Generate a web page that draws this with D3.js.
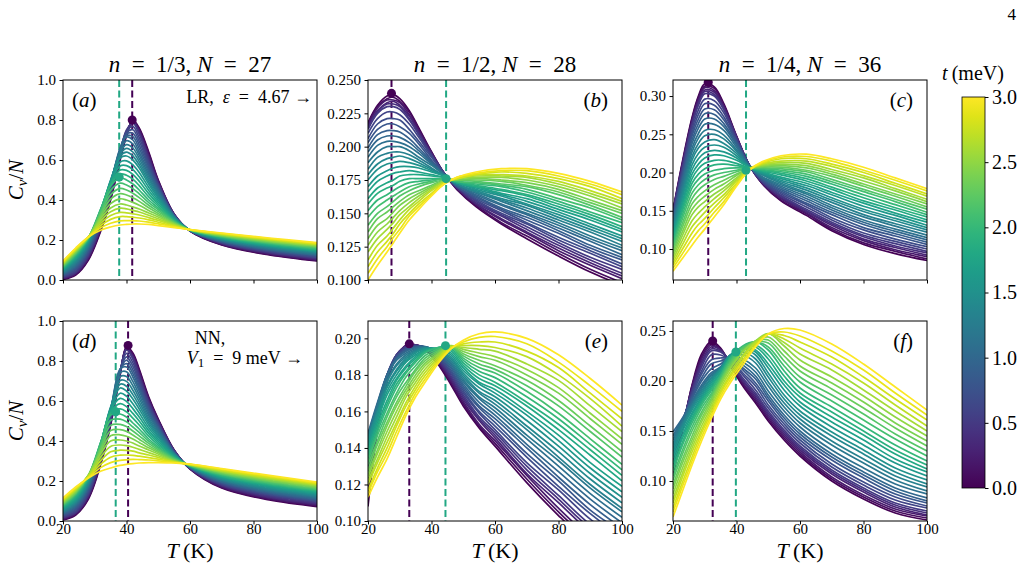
<!DOCTYPE html>
<html><head><meta charset="utf-8">
<script src="https://cdn.jsdelivr.net/npm/d3@7"></script>
<style>
body{margin:0;background:#fff;}
svg{display:block;}
</style>
</head><body>
<svg id="c" width="1028" height="578"></svg>
<script>
// ---------- data ----------
const tValues = [0,0.1,0.2,0.3,0.4,0.5,0.6,0.7,0.8,0.9,1,1.1,1.2,1.3,1.4,1.5,1.6,1.7,1.8,1.9,2,2.1,2.2,2.3,2.4,2.5,2.6,2.7,2.8,2.9,3];
const xTicks = [20,40,60,80,100];
const cbTicks = [0,0.5,1,1.5,2,2.5,3];

// panel (a): rows = temperatures, columns = t values
const tempA = [20,24,28,32,35,38,40,42,44,47,50,55,60,70,85,100];
const cvA = [
[.003,.005,.008,.010,.013,.015,.018,.021,.024,.027,.030,.033,.037,.040,.044,.047,.050,.053,.057,.060,.063,.066,.069,.073,.076,.079,.082,.085,.089,.092,.095],
[.025,.028,.031,.034,.037,.040,.046,.052,.058,.064,.070,.076,.082,.088,.094,.100,.105,.110,.115,.120,.125,.129,.133,.137,.141,.145,.148,.151,.154,.157,.160],
[.100,.105,.110,.115,.120,.125,.132,.139,.146,.153,.160,.166,.172,.178,.184,.190,.194,.198,.202,.206,.210,.211,.212,.213,.214,.215,.215,.215,.215,.215,.215],
[.250,.256,.262,.268,.274,.280,.288,.296,.304,.312,.320,.326,.332,.338,.344,.350,.352,.354,.356,.358,.360,.350,.340,.330,.320,.310,.298,.286,.274,.262,.250],
[.400,.408,.416,.424,.432,.440,.448,.456,.464,.472,.480,.484,.488,.492,.496,.500,.494,.488,.482,.476,.470,.448,.426,.404,.382,.360,.341,.322,.303,.284,.265],
[.600,.608,.616,.624,.632,.640,.644,.648,.652,.656,.660,.650,.640,.630,.620,.610,.590,.570,.550,.530,.510,.484,.458,.432,.406,.380,.359,.338,.317,.296,.275],
[.720,.726,.732,.738,.744,.750,.743,.736,.729,.722,.715,.696,.677,.658,.639,.620,.596,.572,.548,.524,.500,.475,.450,.425,.400,.375,.356,.336,.317,.297,.278],
[.800,.797,.794,.791,.788,.785,.768,.751,.734,.717,.700,.680,.660,.640,.620,.600,.576,.552,.528,.504,.480,.457,.434,.411,.388,.365,.348,.331,.314,.297,.280],
[.760,.754,.748,.742,.736,.730,.712,.694,.676,.658,.640,.624,.608,.592,.576,.560,.538,.516,.494,.472,.450,.431,.412,.393,.374,.355,.340,.325,.310,.295,.280],
[.640,.632,.624,.616,.608,.600,.588,.576,.564,.552,.540,.528,.516,.504,.492,.480,.464,.448,.432,.416,.400,.387,.374,.361,.348,.335,.324,.312,.301,.289,.278],
[.500,.496,.492,.488,.484,.480,.474,.468,.462,.456,.450,.442,.434,.426,.418,.410,.400,.390,.380,.370,.360,.351,.342,.333,.324,.315,.306,.298,.289,.281,.272],
[.330,.329,.328,.327,.326,.325,.324,.323,.322,.321,.320,.318,.316,.314,.312,.310,.307,.304,.301,.298,.295,.292,.289,.286,.283,.280,.276,.273,.269,.266,.262],
[.245,.245,.246,.246,.247,.247,.247,.247,.248,.248,.248,.248,.248,.249,.249,.249,.249,.249,.250,.250,.250,.250,.250,.251,.251,.251,.251,.251,.252,.252,.252],
[.175,.177,.179,.181,.183,.185,.187,.189,.191,.193,.195,.197,.199,.201,.203,.205,.207,.209,.211,.213,.215,.217,.219,.221,.223,.225,.227,.229,.231,.233,.235],
[.125,.128,.131,.134,.136,.139,.142,.145,.148,.151,.153,.156,.159,.162,.165,.168,.170,.173,.176,.179,.182,.185,.187,.190,.193,.196,.199,.202,.204,.207,.210],
[.095,.098,.101,.104,.107,.110,.113,.116,.120,.123,.126,.129,.132,.135,.138,.141,.144,.147,.150,.153,.156,.159,.163,.166,.169,.172,.175,.178,.181,.184,.187]
];

// panel (b)
const tempB = [20,23,26,28,30,33,36,40,44,48,54,62,70,80,90,100];
const cvB = [
[.218,.217,.216,.215,.214,.213,.210,.206,.203,.199,.196,.192,.188,.183,.179,.175,.170,.166,.161,.157,.152,.147,.141,.136,.131,.126,.121,.115,.110,.105,.100],
[.231,.230,.229,.227,.226,.225,.221,.217,.213,.209,.205,.201,.196,.192,.187,.183,.178,.174,.169,.165,.160,.155,.150,.146,.141,.136,.131,.126,.121,.116,.111],
[.238,.236,.235,.233,.232,.230,.226,.221,.217,.212,.208,.204,.200,.195,.191,.187,.182,.178,.173,.169,.164,.160,.155,.151,.146,.142,.138,.133,.129,.125,.121],
[.239,.237,.235,.234,.232,.230,.226,.221,.217,.212,.208,.204,.200,.196,.192,.188,.184,.180,.175,.171,.167,.163,.159,.155,.151,.147,.143,.139,.135,.132,.128],
[.236,.234,.233,.231,.230,.228,.224,.220,.215,.211,.207,.203,.200,.196,.193,.189,.185,.181,.178,.174,.170,.166,.163,.159,.156,.152,.149,.145,.142,.138,.135],
[.227,.226,.224,.223,.221,.220,.217,.213,.210,.206,.203,.200,.197,.194,.191,.188,.185,.182,.179,.176,.173,.170,.167,.164,.161,.158,.155,.153,.150,.148,.145],
[.214,.213,.212,.211,.210,.209,.207,.204,.202,.199,.197,.195,.192,.190,.188,.186,.184,.181,.179,.176,.174,.172,.170,.167,.165,.163,.161,.159,.157,.155,.153],
[.196,.196,.195,.195,.194,.194,.193,.192,.190,.189,.188,.187,.186,.184,.183,.182,.181,.179,.178,.176,.175,.174,.173,.171,.170,.169,.168,.167,.165,.164,.163],
[.180,.180,.180,.180,.180,.180,.180,.180,.179,.179,.179,.179,.179,.178,.178,.178,.178,.177,.177,.176,.176,.176,.175,.175,.174,.174,.174,.173,.173,.172,.172],
[.168,.168,.169,.169,.169,.170,.170,.170,.170,.171,.171,.171,.172,.172,.172,.173,.173,.173,.173,.174,.174,.174,.175,.175,.175,.176,.176,.176,.176,.177,.177],
[.155,.156,.157,.157,.158,.159,.160,.161,.162,.163,.164,.165,.166,.166,.167,.168,.169,.170,.170,.171,.172,.173,.174,.175,.176,.177,.178,.179,.179,.180,.181],
[.142,.143,.145,.146,.148,.149,.150,.152,.153,.154,.156,.157,.159,.160,.161,.163,.164,.165,.167,.168,.170,.171,.172,.174,.175,.177,.178,.179,.181,.182,.1835],
[.131,.133,.135,.136,.138,.140,.142,.143,.145,.147,.149,.150,.152,.154,.156,.157,.159,.161,.163,.164,.166,.168,.170,.171,.173,.175,.177,.178,.180,.182,.1835],
[.118,.120,.122,.124,.126,.128,.130,.132,.135,.137,.139,.141,.143,.145,.147,.149,.151,.153,.155,.157,.159,.161,.164,.166,.168,.170,.172,.174,.176,.178,.180],
[.106,.108,.111,.113,.115,.117,.120,.122,.124,.126,.129,.131,.133,.136,.138,.140,.142,.145,.147,.149,.151,.154,.156,.158,.160,.163,.165,.167,.170,.172,.174],
[.096,.098,.101,.103,.105,.108,.110,.112,.115,.117,.119,.122,.124,.126,.129,.131,.133,.136,.138,.140,.143,.145,.147,.150,.152,.154,.157,.159,.161,.164,.166]
];

// panel (c)
const tempC = [20,23,26,28,30,33,36,40,44,48,54,62,70,80,90,100];
const cvC = [
[.150,.150,.149,.149,.148,.148,.146,.144,.142,.140,.138,.135,.132,.130,.127,.124,.121,.118,.114,.111,.108,.104,.101,.097,.094,.090,.086,.082,.079,.075,.071],
[.215,.213,.212,.210,.209,.207,.204,.200,.197,.193,.190,.186,.181,.177,.172,.168,.163,.159,.154,.150,.145,.140,.134,.129,.123,.118,.112,.106,.100,.094,.088],
[.272,.270,.268,.266,.264,.262,.257,.252,.248,.243,.238,.232,.227,.221,.216,.210,.204,.198,.192,.186,.180,.173,.166,.159,.152,.145,.137,.129,.121,.113,.105],
[.300,.298,.295,.293,.290,.288,.282,.276,.270,.264,.258,.251,.245,.238,.232,.225,.218,.211,.205,.198,.191,.184,.177,.169,.162,.155,.147,.139,.132,.124,.116],
[.316,.313,.311,.308,.306,.303,.296,.290,.283,.277,.270,.263,.255,.248,.240,.233,.226,.219,.212,.205,.198,.191,.184,.176,.169,.162,.155,.148,.140,.133,.126],
[.312,.310,.307,.305,.302,.300,.294,.288,.282,.276,.270,.263,.256,.250,.243,.236,.229,.223,.216,.210,.203,.197,.191,.184,.178,.172,.166,.160,.154,.148,.142],
[.290,.288,.287,.285,.284,.282,.278,.273,.269,.264,.260,.255,.249,.244,.238,.233,.227,.222,.216,.211,.205,.200,.195,.190,.185,.180,.176,.171,.167,.162,.158],
[.248,.247,.247,.246,.246,.245,.243,.241,.240,.238,.236,.233,.230,.228,.225,.222,.219,.216,.212,.209,.206,.203,.201,.198,.196,.193,.191,.189,.186,.184,.182],
[.210,.210,.210,.210,.210,.210,.210,.210,.209,.209,.209,.209,.208,.208,.207,.207,.207,.207,.206,.206,.206,.206,.206,.205,.205,.205,.205,.204,.204,.203,.203],
[.186,.186,.187,.187,.188,.188,.189,.190,.191,.192,.193,.194,.195,.197,.198,.199,.200,.201,.202,.203,.204,.205,.206,.207,.208,.209,.210,.211,.212,.213,.214],
[.163,.164,.166,.167,.169,.170,.172,.174,.176,.178,.180,.182,.184,.186,.188,.190,.192,.194,.197,.199,.201,.203,.205,.207,.209,.211,.213,.215,.218,.220,.222],
[.144,.146,.147,.149,.150,.152,.155,.158,.160,.163,.166,.169,.172,.174,.177,.180,.183,.186,.189,.192,.195,.198,.201,.203,.206,.209,.212,.215,.218,.221,.224],
[.124,.126,.128,.131,.133,.135,.138,.141,.145,.148,.151,.154,.157,.161,.164,.167,.171,.174,.178,.181,.185,.188,.191,.195,.198,.201,.204,.208,.211,.215,.218],
[.106,.108,.111,.113,.116,.118,.121,.125,.128,.132,.135,.138,.142,.145,.149,.152,.156,.160,.163,.167,.171,.175,.178,.182,.185,.189,.193,.196,.200,.203,.207],
[.094,.097,.099,.102,.104,.107,.110,.113,.117,.120,.123,.126,.130,.133,.137,.140,.144,.147,.151,.154,.158,.162,.165,.169,.172,.176,.179,.183,.186,.190,.193],
[.085,.087,.090,.092,.095,.097,.100,.103,.106,.109,.112,.115,.118,.122,.125,.128,.131,.135,.138,.142,.145,.148,.152,.155,.159,.162,.165,.169,.172,.176,.179]
];

// panel (d)
const tempD = [20,24,28,32,35,38,40,42,44,47,50,55,60,70,85,100];
const cvD = [
[.005,.008,.011,.014,.017,.020,.024,.027,.031,.034,.038,.042,.045,.049,.053,.057,.061,.065,.068,.072,.076,.080,.084,.087,.091,.095,.099,.103,.107,.111,.115],
[.030,.033,.036,.039,.042,.045,.051,.057,.063,.069,.075,.080,.085,.090,.095,.100,.106,.112,.118,.124,.130,.134,.138,.142,.146,.150,.154,.158,.162,.166,.170],
[.110,.115,.120,.125,.130,.135,.142,.149,.156,.163,.170,.176,.182,.188,.194,.200,.205,.210,.215,.220,.225,.226,.227,.228,.229,.230,.227,.224,.221,.218,.215],
[.290,.296,.302,.308,.314,.320,.328,.336,.344,.352,.360,.366,.372,.378,.384,.390,.392,.394,.396,.398,.400,.388,.376,.364,.352,.340,.322,.304,.286,.268,.250],
[.480,.486,.492,.498,.504,.510,.518,.526,.534,.542,.550,.554,.558,.562,.566,.570,.562,.554,.546,.538,.530,.504,.478,.452,.426,.400,.373,.346,.319,.292,.265],
[.730,.734,.738,.742,.746,.750,.752,.754,.756,.758,.760,.741,.722,.703,.684,.665,.639,.613,.587,.561,.535,.509,.483,.457,.431,.405,.380,.354,.329,.303,.278],
[.870,.867,.864,.861,.858,.855,.838,.821,.804,.787,.770,.746,.722,.698,.674,.650,.624,.598,.572,.546,.520,.496,.472,.448,.424,.400,.377,.353,.330,.306,.283],
[.840,.834,.828,.822,.816,.810,.792,.774,.756,.738,.720,.698,.676,.654,.632,.610,.586,.562,.538,.514,.490,.470,.450,.430,.410,.390,.369,.349,.328,.308,.287],
[.760,.752,.744,.736,.728,.720,.706,.692,.678,.664,.650,.632,.614,.596,.578,.560,.540,.520,.500,.480,.460,.443,.426,.409,.392,.375,.358,.341,.324,.307,.290],
[.620,.614,.608,.602,.596,.590,.580,.570,.560,.550,.540,.528,.516,.504,.492,.480,.466,.452,.438,.424,.410,.399,.388,.377,.366,.355,.342,.330,.317,.305,.292],
[.510,.506,.502,.498,.494,.490,.484,.478,.472,.466,.460,.452,.444,.436,.428,.420,.410,.400,.390,.380,.370,.363,.356,.349,.342,.335,.326,.318,.309,.301,.292],
[.355,.354,.353,.352,.351,.350,.348,.346,.344,.342,.340,.338,.336,.334,.332,.330,.327,.324,.321,.318,.315,.312,.309,.306,.303,.300,.298,.296,.294,.292,.290],
[.260,.261,.262,.262,.263,.264,.265,.266,.267,.267,.268,.269,.270,.271,.272,.272,.273,.274,.275,.276,.277,.277,.278,.279,.280,.281,.282,.282,.283,.284,.285],
[.165,.168,.171,.175,.178,.181,.184,.188,.191,.194,.197,.201,.204,.207,.210,.213,.217,.220,.223,.226,.230,.233,.236,.239,.243,.246,.249,.252,.255,.259,.262],
[.105,.109,.113,.117,.121,.126,.130,.134,.138,.142,.146,.150,.154,.158,.162,.167,.171,.175,.179,.183,.187,.191,.195,.199,.203,.208,.212,.216,.220,.224,.228],
[.072,.076,.080,.084,.088,.093,.097,.101,.105,.109,.113,.117,.121,.125,.129,.134,.138,.142,.146,.150,.154,.158,.162,.166,.170,.175,.179,.183,.187,.191,.195]
];

// panel (e)
const tempE = [20,23,26,29,32,35,38,42,46,50,55,60,70,80,90,100];
const cvE = [
[.108,.112,.117,.121,.126,.130,.134,.137,.141,.144,.148,.147,.146,.146,.145,.144,.142,.140,.139,.137,.135,.133,.131,.128,.126,.124,.122,.120,.117,.115,.113],
[.150,.152,.154,.156,.158,.160,.161,.162,.163,.164,.165,.164,.163,.161,.160,.159,.157,.155,.153,.151,.149,.147,.144,.142,.139,.137,.134,.132,.129,.127,.124],
[.176,.177,.177,.178,.179,.180,.180,.180,.180,.180,.180,.179,.177,.176,.174,.173,.171,.169,.166,.164,.162,.159,.157,.154,.152,.149,.146,.143,.140,.137,.134],
[.190,.190,.190,.191,.191,.191,.191,.190,.190,.189,.189,.188,.186,.185,.183,.182,.180,.178,.177,.175,.173,.170,.168,.165,.163,.160,.157,.154,.152,.149,.146],
[.1962,.1961,.1959,.1958,.1956,.1955,.195,.1945,.194,.1935,.193,.192,.191,.190,.189,.188,.187,.185,.184,.182,.181,.179,.176,.174,.172,.170,.168,.165,.163,.160,.158],
[.1965,.1964,.1964,.1963,.1963,.1962,.196,.1957,.1955,.1952,.195,.1944,.1938,.1932,.1926,.192,.191,.190,.189,.188,.187,.185,.183,.182,.180,.178,.176,.174,.172,.170,.168],
[.194,.1942,.1944,.1946,.1948,.195,.1951,.1952,.1953,.1954,.1955,.1953,.1951,.1949,.1947,.1945,.194,.1935,.193,.1925,.192,.1906,.1892,.1878,.1864,.185,.1832,.1814,.1796,.1778,.176],
[.186,.1866,.1872,.1878,.1884,.189,.1896,.1902,.1908,.1914,.192,.1924,.1928,.1932,.1936,.194,.1942,.1944,.1946,.1948,.195,.1942,.1934,.1926,.1918,.191,.190,.189,.188,.187,.186],
[.175,.176,.177,.178,.179,.180,.181,.182,.183,.184,.185,.186,.187,.188,.189,.190,.1911,.1922,.1933,.1944,.1955,.1956,.1957,.1958,.1959,.196,.1956,.1952,.1948,.1944,.194],
[.163,.1642,.1654,.1666,.1678,.169,.1702,.1714,.1726,.1738,.175,.1762,.1774,.1786,.1798,.181,.1824,.1838,.1852,.1866,.188,.1892,.1904,.1916,.1928,.194,.195,.196,.197,.198,.199],
[.151,.152,.153,.155,.156,.157,.159,.160,.162,.163,.165,.167,.168,.170,.171,.173,.175,.176,.178,.180,.182,.184,.186,.188,.190,.192,.194,.196,.198,.2005,.2025],
[.141,.1425,.144,.1455,.147,.1485,.150,.152,.154,.156,.158,.160,.162,.164,.166,.168,.170,.172,.174,.176,.1785,.181,.183,.185,.188,.190,.193,.195,.198,.201,.2035],
[.121,.123,.125,.126,.128,.130,.132,.135,.137,.140,.142,.145,.147,.150,.152,.155,.158,.160,.163,.165,.168,.171,.174,.177,.180,.183,.186,.190,.193,.197,.200],
[.103,.105,.107,.110,.112,.114,.117,.119,.122,.124,.127,.130,.133,.135,.138,.141,.144,.147,.150,.153,.156,.159,.163,.166,.170,.173,.177,.180,.184,.187,.191],
[.087,.089,.091,.094,.096,.098,.101,.104,.106,.109,.112,.115,.118,.120,.123,.126,.129,.132,.136,.139,.142,.145,.149,.152,.156,.159,.163,.167,.170,.174,.178],
[.075,.077,.079,.082,.084,.086,.089,.091,.094,.096,.099,.102,.105,.107,.110,.113,.116,.119,.122,.125,.128,.131,.135,.138,.142,.145,.149,.152,.156,.160,.1635]
];

// panel (f)
const tempF = [20,23,26,29,32,35,38,42,46,50,55,60,70,80,90,100];
const cvF = [
[.105,.110,.114,.119,.123,.128,.132,.136,.141,.145,.149,.145,.142,.138,.135,.131,.127,.123,.118,.114,.110,.105,.101,.096,.092,.087,.082,.078,.073,.069,.064],
[.150,.152,.153,.155,.156,.158,.159,.160,.161,.162,.163,.161,.159,.157,.155,.153,.150,.146,.143,.139,.136,.131,.127,.122,.118,.113,.108,.104,.099,.095,.090],
[.196,.195,.194,.192,.191,.190,.188,.186,.184,.182,.180,.178,.176,.175,.173,.171,.168,.166,.163,.161,.158,.154,.150,.145,.141,.137,.133,.129,.124,.120,.116],
[.227,.224,.222,.219,.217,.214,.210,.207,.203,.200,.196,.194,.192,.190,.188,.186,.184,.182,.180,.178,.176,.173,.169,.166,.162,.159,.155,.151,.148,.144,.140],
[.2395,.238,.236,.234,.232,.230,.226,.221,.217,.212,.208,.206,.205,.203,.202,.200,.198,.196,.194,.192,.190,.187,.185,.182,.180,.177,.174,.171,.168,.165,.162],
[.233,.232,.231,.231,.230,.229,.226,.223,.220,.217,.214,.214,.213,.213,.212,.212,.211,.209,.208,.206,.205,.203,.201,.200,.198,.196,.193,.190,.188,.185,.182],
[.216,.217,.218,.218,.219,.220,.221,.222,.223,.224,.2245,.2248,.2251,.2254,.2257,.226,.225,.224,.224,.223,.222,.220,.218,.216,.214,.212,.209,.206,.204,.201,.198],
[.195,.197,.198,.200,.201,.203,.206,.208,.211,.213,.216,.219,.222,.226,.229,.232,.233,.233,.234,.234,.235,.234,.233,.231,.230,.229,.226,.224,.221,.219,.216],
[.178,.180,.182,.184,.186,.188,.191,.195,.198,.202,.205,.209,.213,.218,.222,.226,.229,.231,.234,.236,.239,.239,.239,.240,.240,.240,.239,.238,.236,.235,.234],
[.160,.162,.164,.166,.168,.170,.173,.176,.180,.183,.186,.190,.195,.199,.204,.208,.213,.217,.222,.226,.231,.234,.238,.241,.244,.2475,.247,.247,.247,.247,.247],
[.141,.143,.145,.147,.149,.151,.154,.157,.160,.163,.166,.170,.174,.178,.182,.186,.191,.196,.200,.205,.210,.215,.220,.225,.230,.235,.2385,.242,.2455,.249,.2525],
[.125,.127,.129,.131,.133,.135,.138,.141,.144,.147,.150,.154,.158,.162,.166,.170,.175,.179,.184,.188,.193,.199,.204,.210,.215,.221,.227,.233,.239,.245,.251],
[.100,.102,.104,.107,.109,.111,.114,.117,.121,.124,.127,.131,.136,.140,.145,.149,.154,.159,.164,.169,.174,.180,.186,.192,.198,.204,.211,.217,.224,.230,.237],
[.082,.084,.086,.089,.091,.093,.096,.099,.103,.106,.109,.113,.118,.122,.127,.131,.136,.141,.146,.150,.155,.161,.167,.173,.179,.185,.191,.198,.204,.211,.217],
[.068,.070,.072,.074,.076,.078,.081,.084,.087,.090,.093,.097,.101,.105,.109,.113,.118,.122,.127,.131,.136,.142,.147,.153,.158,.164,.170,.176,.182,.188,.194],
[.061,.063,.065,.066,.068,.070,.073,.075,.078,.080,.083,.087,.090,.094,.097,.101,.105,.109,.112,.116,.120,.125,.130,.135,.140,.145,.150,.155,.161,.166,.171]
];

// y axis domains and ticks
const domA = [0, 1],        ticksA = [0,0.2,0.4,0.6,0.8,1.0];
const domB = [0.1, 0.25],   ticksB = [0.100,0.125,0.150,0.175,0.200,0.225,0.250];
const domC = [0.0595, 0.321], ticksC = [0.10,0.15,0.20,0.25,0.30];
const domD = [0, 1],        ticksD = [0,0.2,0.4,0.6,0.8,1.0];
const domE = [0.1, 0.2095], ticksE = [0.10,0.12,0.14,0.16,0.18,0.20];
const domF = [0.06, 0.26],  ticksF = [0.10,0.15,0.20,0.25];

// peak markers (T, value, t colour)
const marksA = [{T:41.8,v:0.800,t:0},{T:37.7,v:0.515,t:1.8}];
const marksB = [{T:27.4,v:0.240,t:0},{T:44.6,v:0.176,t:1.8}];
const marksC = [{T:31.1,v:0.318,t:0},{T:43.0,v:0.203,t:1.8}];
const marksD = [{T:40.5,v:0.878,t:0},{T:36.6,v:0.546,t:1.8}];
const marksE = [{T:33.0,v:0.197,t:0},{T:44.4,v:0.196,t:1.8}];
const marksF = [{T:32.5,v:0.240,t:0},{T:39.8,v:0.229,t:1.8}];

// ---------- font selection (serif if available) ----------
function pickFont(cands) {
  const ctx = document.createElement("canvas").getContext("2d");
  const probe = "mmmmmmmmmmlli1/3,N=27WQ0.250";
  const bases = ["monospace", "sans-serif"];
  const bw = {};
  bases.forEach(b => { ctx.font = "60px " + b; bw[b] = ctx.measureText(probe).width; });
  for (const f of cands) {
    for (const b of bases) {
      ctx.font = `60px "${f}", ${b}`;
      if (Math.abs(ctx.measureText(probe).width - bw[b]) > 0.5) return f;
    }
  }
  return null;
}
const picked = pickFont(["Liberation Serif","DejaVu Serif","Tinos","Times New Roman","Times","Nimbus Roman","Noto Serif","FreeSerif","Georgia"]);
const FONT = picked ? `"${picked}", serif` : "serif";

// ---------- drawing ----------
const svg = d3.select("#c").attr("font-family", FONT);
const W = 254, H = 200;
const colX = [63, 368, 673], rowY = [80, 321];
const color = t => d3.interpolateViridis(t / 3);
const EN = "\u2002", TH = "\u2009";

function mtext(parent, x, y, parts, size, anchor) {
  const t = parent.append("text").attr("x", x).attr("y", y)
    .attr("font-family", FONT).attr("fill", "#000")
    .attr("font-size", size).attr("text-anchor", anchor || "start");
  parts.forEach(p => {
    const s = t.append("tspan").text(p[0]);
    if (p[1]) s.attr("font-style", "italic");
    if (p[2]) s.attr("dy", p[2]);
    if (p[3]) s.attr("font-size", p[3]);
  });
  return t;
}

const panels = [
  {id:"a", c:0, r:0, temps:tempA, rows:cvA, dom:domA, ticks:ticksA, fmt:".1f", marks:marksA},
  {id:"b", c:1, r:0, temps:tempB, rows:cvB, dom:domB, ticks:ticksB, fmt:".3f", marks:marksB},
  {id:"c", c:2, r:0, temps:tempC, rows:cvC, dom:domC, ticks:ticksC, fmt:".2f", marks:marksC},
  {id:"d", c:0, r:1, temps:tempD, rows:cvD, dom:domD, ticks:ticksD, fmt:".1f", marks:marksD},
  {id:"e", c:1, r:1, temps:tempE, rows:cvE, dom:domE, ticks:ticksE, fmt:".2f", marks:marksE},
  {id:"f", c:2, r:1, temps:tempF, rows:cvF, dom:domF, ticks:ticksF, fmt:".2f", marks:marksF}
];

const defs = svg.append("defs");

panels.forEach(p => {
  const x0 = colX[p.c], y0 = rowY[p.r];
  const x = d3.scaleLinear([20, 100], [x0, x0 + W]);
  const y = d3.scaleLinear(p.dom, [y0 + H, y0]);
  const g = svg.append("g");
  defs.append("clipPath").attr("id", "clip-" + p.id)
    .append("rect").attr("x", x0).attr("y", y0).attr("width", W).attr("height", H);
  const plot = g.append("g").attr("clip-path", `url(#clip-${p.id})`);

  p.marks.forEach(m => {
    plot.append("line").attr("x1", x(m.T)).attr("x2", x(m.T))
      .attr("y1", y0).attr("y2", y0 + H)
      .attr("stroke", color(m.t)).attr("stroke-width", 2)
      .attr("stroke-dasharray", "7,3.5");
  });

  const line = d3.line().x(d => x(d[0])).y(d => y(d[1]))
    .curve(d3.curveCatmullRom.alpha(0.5));
  tValues.forEach((t, k) => {
    const pts = p.temps.map((T, i) => [T, p.rows[i][k]]);
    plot.append("path").attr("d", line(pts)).attr("fill", "none")
      .attr("stroke", color(t)).attr("stroke-width", 1.7);
  });

  p.marks.forEach(m => {
    plot.append("circle").attr("cx", x(m.T)).attr("cy", y(m.v)).attr("r", 4.5)
      .attr("fill", color(m.t));
  });

  const xa = d3.axisBottom(x).tickValues(xTicks).tickSize(3.5).tickPadding(0);
  if (p.r === 0) xa.tickFormat("");
  const gx = g.append("g").attr("transform", `translate(0,${y0 + H})`).call(xa);
  gx.selectAll(".tick text").attr("y", 2.5);
  const ya = d3.axisLeft(y).tickValues(p.ticks).tickFormat(d3.format(p.fmt)).tickSize(3.5).tickPadding(3.5);
  const gy = g.append("g").attr("transform", `translate(${x0},0)`).call(ya);
  [gx, gy].forEach(a => {
    a.attr("font-family", FONT).attr("font-size", 15);
    a.select(".domain").remove();
    a.selectAll(".tick line").attr("stroke", "#000").attr("stroke-width", 1);
  });

  g.append("rect").attr("x", x0).attr("y", y0).attr("width", W).attr("height", H)
    .attr("fill", "none").attr("stroke", "#000").attr("stroke-width", 1);

  // panel letter
  const right = p.c > 0;
  const lx = right ? x0 + W - 14 : x0 + 9;
  const ly = y0 + 27;
  mtext(g, lx, ly, [["("], [p.id, true], [")"]], 21, right ? "end" : "start");

  if (p.r === 1) {
    mtext(g, x0 + W / 2, 558, [["T", true], [TH + "(K)"]], 22, "middle");
  }
  if (p.c === 0) {
    const yl = g.append("g").attr("transform", `translate(23,${y0 + H / 2}) rotate(-90)`);
    mtext(yl, 0, 0, [["C", true], ["v", true, 4, 15], ["/", false, -4, 21], ["N", true]], 21, "middle");
  }
});

// titles
const titleParts = (a, b) => [["n", true], [EN + "=" + EN + a + ", "], ["N", true], [EN + "=" + EN + b]];
mtext(svg, 190, 72, titleParts("1/3", "27"), 23, "middle");
mtext(svg, 495, 72, titleParts("1/2", "28"), 23, "middle");
mtext(svg, 800, 72, titleParts("1/4", "36"), 23, "middle");

// annotations
mtext(svg, 312, 103, [["LR," + EN], ["ε", true], [EN + "=" + EN + "4.67 " + "→"]], 18, "end");
mtext(svg, 210, 344, [["NN,"]], 18, "middle");
mtext(svg, 303, 364, [["V", true], ["1", false, 3, 13], [EN + "=" + EN + "9 meV " + "→", false, -3, 18]], 18, "end");

// page number
mtext(svg, 1016, 20, [["4"]], 17, "end");

// colorbar
const cbX = 962, cbY = 97, cbW = 23, cbH = 391;
const grad = defs.append("linearGradient").attr("id", "vir")
  .attr("x1", 0).attr("y1", 1).attr("x2", 0).attr("y2", 0);
d3.range(0, 1.0001, 0.05).forEach(s => {
  grad.append("stop").attr("offset", s).attr("stop-color", d3.interpolateViridis(s));
});
svg.append("rect").attr("x", cbX).attr("y", cbY).attr("width", cbW).attr("height", cbH)
  .attr("fill", "url(#vir)").attr("stroke", "#000").attr("stroke-width", 0.8);
const cbScale = d3.scaleLinear([0, 3], [cbY + cbH, cbY]);
const cba = svg.append("g").attr("transform", `translate(${cbX + cbW},0)`)
  .call(d3.axisRight(cbScale).tickValues(cbTicks).tickFormat(d3.format(".1f")).tickSize(3.5).tickPadding(3.5));
cba.attr("font-family", FONT).attr("font-size", 20);
cba.select(".domain").remove();
cba.selectAll(".tick line").attr("stroke", "#000");
mtext(svg, 973, 80, [["t", true], [TH + "(meV)"]], 20, "middle");
</script>
</body></html>
